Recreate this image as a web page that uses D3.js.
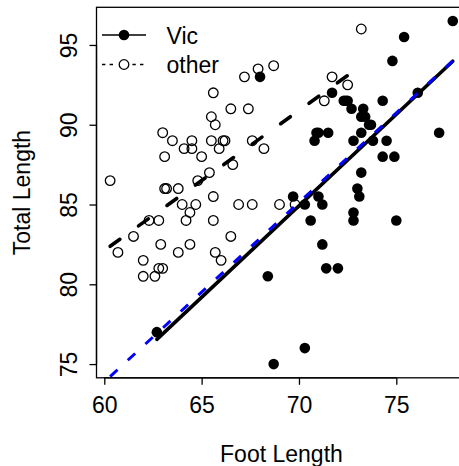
<!DOCTYPE html>
<html>
  <head>
    <script src="https://cdn.jsdelivr.net/npm/d3@7"></script>
    <style>
      body { margin: 0; background: white; }
      text { font-family: "Liberation Sans", Arial, sans-serif; font-size: 23px; fill: black; }
    </style>
  </head>
  <body>
    <script>
// foot length vs total length, Vic and other possums
var vicFoot = [74.5, 72.5, 75.4, 76.1, 71.0, 73.2, 71.5, 72.7, 72.4, 70.9, 77.2, 71.7, 71.0, 74.3, 69.7,
  73.0, 73.2, 73.7, 73.4, 73.8, 77.9, 73.3, 72.8, 75.0, 72.3, 73.6, 70.3, 73.2, 74.9, 70.6, 68.0, 74.8,
  70.8, 73.1, 71.2, 74.3, 71.2, 68.4, 68.7, 72.8, 62.7, 72.0, 70.3, 71.4, 72.8];
var vicTotal = [89.0, 91.5, 95.5, 92.0, 85.5, 90.5, 89.5, 91.0, 91.5, 89.5, 89.5, 92.0, 89.5, 91.5, 85.5,
  86.0, 89.5, 90.0, 90.5, 89.0, 96.5, 91.0, 89.0, 84.0, 91.5, 90.0, 85.0, 87.0, 88.0, 84.0, 93.0, 94.0,
  89.0, 85.5, 85.0, 88.0, 82.5, 80.5, 75.0, 84.5, 77.0, 81.0, 76.0, 81.0, 84.0];

var otherFoot = [60.3, 60.7, 61.5, 62.0, 62.0, 62.6, 62.8, 63.0, 62.3, 62.8, 62.9, 63.1, 63.2, 63.8, 63.8,
  64.0, 64.2, 64.4, 64.7, 64.4, 65.6, 65.6, 65.7, 66.0, 66.5, 66.9, 67.6, 69.0, 69.8, 64.8, 65.4, 66.6,
  63.1, 65.0, 64.1, 64.5, 65.9, 68.2, 63.5, 64.5, 65.5, 66.1, 66.2, 67.6, 63.0, 65.7, 65.5, 66.5, 67.4,
  65.6, 67.2, 67.9, 68.7, 71.3, 71.7, 72.5, 73.2];
var otherTotal = [86.5, 82.0, 83.0, 81.5, 80.5, 80.5, 81.0, 81.0, 84.0, 84.0, 82.5, 86.0, 86.0, 86.0, 82.0,
  85.0, 84.0, 84.5, 85.0, 82.5, 85.5, 84.0, 82.0, 81.5, 83.0, 85.0, 85.0, 85.0, 85.0, 86.5, 87.0, 87.5,
  88.0, 88.0, 88.5, 88.5, 88.5, 88.5, 89.0, 89.0, 89.0, 89.0, 89.0, 89.0, 89.5, 90.0, 90.5, 91.0, 91.0,
  92.0, 93.0, 93.5, 93.7, 91.5, 93.0, 92.5, 96.0];

// fitted lines (end points)
var vicFitFoot = [62.7, 77.9], vicFitTotal = [76.55, 93.98];
var otherFitFoot = [60.3, 73.2], otherFitTotal = [82.38, 93.7];
var allFitFoot = [60.3, 77.9], allFitTotal = [74.22, 94.0];

var xTicks = [60, 65, 70, 75];
var yTicks = [75, 80, 85, 90, 95];
var groups = ["Vic", "other"];

var width = 459, height = 466;

var x = d3.scaleLinear().domain([59.6, 78.6]).range([96.5, 466.4]);
var y = d3.scaleLinear().domain([74.14, 97.36]).range([377.8, 7.3]);

var svg = d3.select("body").append("svg")
  .attr("width", width)
  .attr("height", height);

// points
var other = d3.zip(otherFoot, otherTotal);
var vic = d3.zip(vicFoot, vicTotal);

svg.append("g").selectAll("circle")
  .data(other).enter().append("circle")
  .attr("cx", d => x(d[0])).attr("cy", d => y(d[1]))
  .attr("r", 4.8).attr("fill", "none")
  .attr("stroke", "black").attr("stroke-width", 1.3);

svg.append("g").selectAll("circle")
  .data(vic).enter().append("circle")
  .attr("cx", d => x(d[0])).attr("cy", d => y(d[1]))
  .attr("r", 5.3).attr("fill", "black");

// lines
var line = d3.line().x(d => x(d[0])).y(d => y(d[1]));

svg.append("path")
  .attr("d", line(d3.zip(vicFitFoot, vicFitTotal)))
  .attr("fill", "none").attr("stroke", "black")
  .attr("stroke-width", 3.6).attr("stroke-linecap", "round");

svg.append("path")
  .attr("d", line(d3.zip(otherFitFoot, otherFitTotal)))
  .attr("fill", "none").attr("stroke", "black")
  .attr("stroke-width", 3.6).attr("stroke-linecap", "round")
  .attr("stroke-dasharray", "12,23");

svg.append("path")
  .attr("d", line(d3.zip(allFitFoot, allFitTotal)))
  .attr("fill", "none").attr("stroke", "#0000ff")
  .attr("stroke-width", 3).attr("stroke-dasharray", "10,14");

// box
svg.append("rect")
  .attr("x", x(59.6)).attr("y", y(97.36))
  .attr("width", x(78.6) - x(59.6)).attr("height", y(74.14) - y(97.36))
  .attr("fill", "none").attr("stroke", "black").attr("stroke-width", 1.3);

// x axis
var xa = svg.append("g").attr("transform", "translate(0," + y(74.14) + ")")
  .call(d3.axisBottom(x).tickValues(xTicks).tickSize(7).tickPadding(12).tickFormat(d3.format("d")));
xa.select(".domain").attr("d", "M" + x(60) + ",0H" + x(75)).attr("stroke-width", 1.3);
xa.selectAll(".tick line").attr("stroke-width", 1.3);
xa.selectAll("text").attr("font-size", 23).attr("font-family", null);

// y axis, labels rotated like R
var ya = svg.append("g").attr("transform", "translate(" + x(59.6) + ",0)")
  .call(d3.axisLeft(y).tickValues(yTicks).tickSize(7).tickFormat(d3.format("d")));
ya.select(".domain").attr("d", "M0," + y(75) + "V" + y(95)).attr("stroke-width", 1.3);
ya.selectAll(".tick line").attr("stroke-width", 1.3);
ya.selectAll("text")
  .attr("x", 0).attr("dy", null).attr("font-size", 23).attr("font-family", null)
  .attr("text-anchor", "middle")
  .attr("transform", "translate(-19.5,0) rotate(-90)");

// titles
svg.append("text").attr("x", (x(59.6) + x(78.6)) / 2).attr("y", 461.5)
  .attr("text-anchor", "middle").text("Foot Length");
svg.append("text")
  .attr("transform", "translate(30," + (y(74.14) + y(97.36)) / 2 + ") rotate(-90)")
  .attr("text-anchor", "middle").text("Total Length");

// legend
var leg = svg.append("g");
leg.append("line").attr("x1", 102).attr("x2", 146).attr("y1", 35).attr("y2", 35)
  .attr("stroke", "black").attr("stroke-width", 1.5);
leg.append("circle").attr("cx", 124).attr("cy", 35).attr("r", 5.3).attr("fill", "black");
leg.append("text").attr("x", 166.5).attr("y", 43.5).text(groups[0]);

leg.append("line").attr("x1", 102).attr("x2", 146).attr("y1", 64.5).attr("y2", 64.5)
  .attr("stroke", "black").attr("stroke-width", 1.5).attr("stroke-dasharray", "3.4,4.2");
leg.append("circle").attr("cx", 124).attr("cy", 64.5).attr("r", 4.8)
  .attr("fill", "white").attr("stroke", "white").attr("stroke-width", 6);
leg.append("circle").attr("cx", 124).attr("cy", 64.5).attr("r", 4.8)
  .attr("fill", "white").attr("stroke", "black").attr("stroke-width", 1.3);
leg.append("text").attr("x", 166.5).attr("y", 73).text(groups[1]);
    </script>
  </body>
</html>
